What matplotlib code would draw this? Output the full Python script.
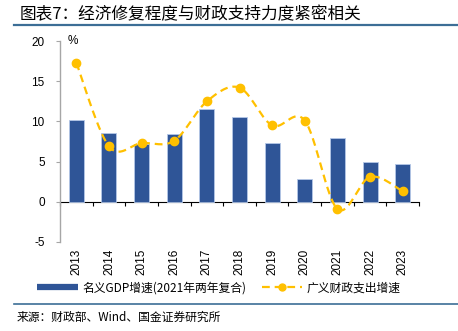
import numpy as np
import matplotlib
matplotlib.use("Agg")
import matplotlib.pyplot as plt
from matplotlib.lines import Line2D

plt.rcParams['font.family'] = ['Liberation Sans', 'Noto Sans CJK SC', 'DejaVu Sans']
plt.rcParams['axes.unicode_minus'] = False

years = ['2013', '2014', '2015', '2016', '2017', '2018', '2019', '2020', '2021', '2022', '2023']
gdp_growth = [10.2, 8.6, 7.2, 8.4, 11.5, 10.5, 7.3, 2.8, 7.9, 4.9, 4.7]
fiscal_growth = [17.3, 6.9, 7.3, 7.6, 12.5, 14.2, 9.5, 10.1, -0.9, 3.1, 1.3]

bar_color = '#2F5597'
line_color = '#FFC000'
cjk = ['Noto Sans CJK SC', 'DejaVu Sans']


def smooth(xs, ys, n=30):
    # uniform Catmull-Rom curve through the points (Excel-like smoothed line)
    xs = np.asarray(xs, float)
    ys = np.asarray(ys, float)
    px = np.concatenate([[xs[0]], xs, [xs[-1]]])
    py = np.concatenate([[ys[0]], ys, [ys[-1]]])
    ox, oy = [], []
    t = np.linspace(0, 1, n)
    for i in range(1, len(px) - 2):
        for p, out in ((px, ox), (py, oy)):
            p0, p1, p2, p3 = p[i - 1], p[i], p[i + 1], p[i + 2]
            seg = 0.5 * ((2 * p1) + (-p0 + p2) * t
                         + (2 * p0 - 5 * p1 + 4 * p2 - p3) * t ** 2
                         + (-p0 + 3 * p1 - 3 * p2 + p3) * t ** 3)
            out.extend(seg if i == 1 else seg[1:])
    return np.array(ox), np.array(oy)


fig = plt.figure(figsize=(4.58, 3.31), dpi=100)
ax = fig.add_axes([0.131, 0.269, 0.784, 0.607])

x = np.arange(len(years))
ax.bar(x, gdp_growth, width=0.46, color=bar_color, edgecolor='#B4C7E7', linewidth=0.6, zorder=2)

sx, sy = smooth(x, fiscal_growth)
ax.plot(sx, sy, color=line_color, lw=1.6, dashes=(3.5, 2.2), zorder=3)
ax.plot(x, fiscal_growth, 'o', color=line_color, ms=6, zorder=4)

ax.set_xlim(-0.5, len(years) - 0.5)
ax.set_ylim(-5, 20)
ax.set_yticks([-5, 0, 5, 10, 15, 20])

# y axis: grey spine, outward ticks
for s in ['top', 'right', 'bottom']:
    ax.spines[s].set_visible(False)
ax.spines['left'].set_color('#A6A6A6')
ax.spines['left'].set_linewidth(1.0)
ax.tick_params(axis='y', length=3, width=0.8, color='#A6A6A6', pad=8, labelsize=8.5)

# category labels at the bottom, no ticks there
ax.set_xticks(x)
ax.set_xticklabels(years, rotation=90, fontsize=8.5)
ax.tick_params(axis='x', length=0, pad=5)

# x axis line drawn at zero with ticks between categories
zero_pos = (0 - (-5)) / 25
sec = ax.secondary_xaxis(zero_pos)
sec.spines['bottom'].set_color('black')
sec.spines['bottom'].set_linewidth(0.8)
sec.set_xticks(np.arange(len(years) + 1) - 0.5)
sec.set_xticklabels([])
sec.tick_params(axis='x', direction='out', length=3, width=0.8, color='black')

ax.text(0.02, 1.0, '%', transform=ax.transAxes, fontsize=8.5, va='center', ha='left')

# title and rules
fig.text(0.042, 0.955, '图表7：经济修复程度与财政支持力度紧密相关', family=cjk,
         fontsize=12, fontweight='medium', va='center', ha='left')
fig.add_artist(Line2D([0.03, 1.0], [0.923, 0.923], color='#3C6E96', lw=1.6))
fig.add_artist(Line2D([0.03, 1.0], [0.081, 0.081], color='#3C6E96', lw=1.2))

handles = [
    Line2D([], [], color=bar_color, lw=4.5, solid_capstyle='butt'),
    Line2D([], [], color=line_color, lw=1.6, dashes=(3.5, 2.2), marker='o', ms=5),
]
labels = ['名义GDP增速(2021年两年复合)', '广义财政支出增速']
fig.legend(handles, labels, loc='center', bbox_to_anchor=(0.478, 0.13), ncol=2,
           frameon=False, prop={'family': cjk, 'size': 8.5}, handlelength=3.4,
           columnspacing=1.3, handletextpad=0.4)

fig.text(0.037, 0.042, '来源：财政部、Wind、国金证券研究所', family=cjk,
         fontsize=8.5, va='center', ha='left')

fig.savefig('out.png', dpi=100)
